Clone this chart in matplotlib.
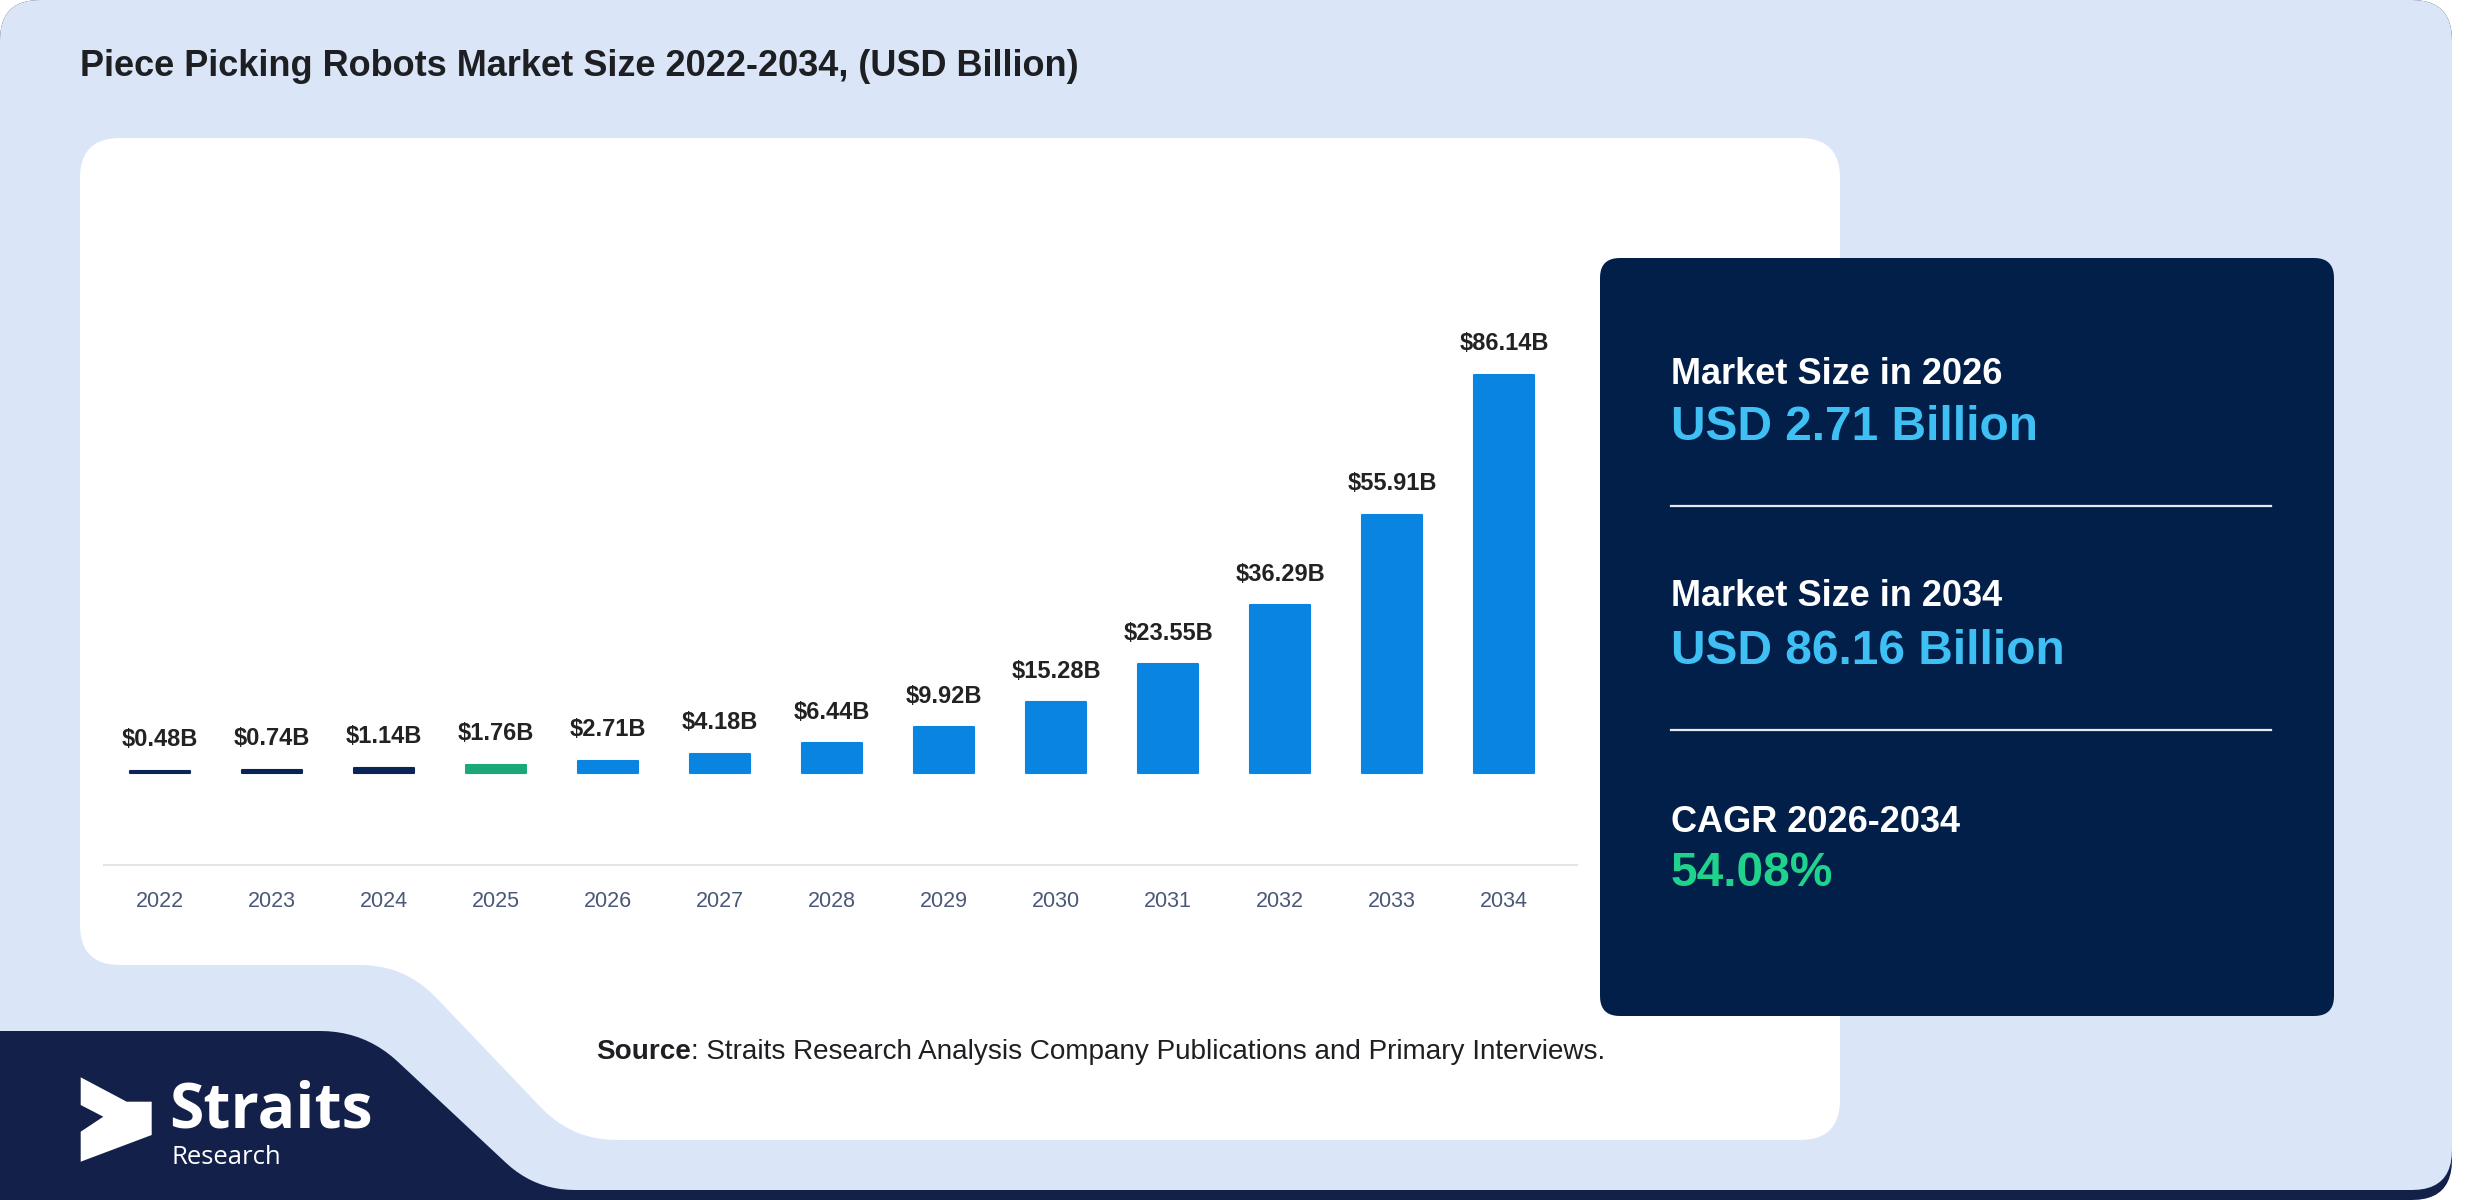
import numpy as np
import matplotlib
matplotlib.use("Agg")
import matplotlib.pyplot as plt
from matplotlib.patches import Polygon

plt.rcParams['font.family'] = ['Liberation Sans', 'DejaVu Sans']

# data
years = ['2022', '2023', '2024', '2025', '2026', '2027', '2028',
         '2029', '2030', '2031', '2032', '2033', '2034']
market_size = [0.48, 0.74, 1.14, 1.76, 2.71, 4.18, 6.44,
               9.92, 15.28, 23.55, 36.29, 55.91, 86.14]
bar_colors = ['#0b2456'] * 3 + ['#1aa876'] + ['#0a84e1'] * 9

title = 'Piece Picking Robots Market Size 2022-2034, (USD Billion)'
panel_items = [('Market Size in 2026', 'USD 2.71 Billion', '#3fc0f4'),
               ('Market Size in 2034', 'USD 86.16 Billion', '#3fc0f4'),
               ('CAGR 2026-2034', '54.08%', '#1fd38c')]
source_note = ': Straits Research Analysis Company Publications and Primary Interviews.'

W, H = 2480, 1200
LIGHT = '#dae6f8'
NAVY = '#13204a'
PANEL = '#021f4a'


def rounded(pts, radii, n=12):
    # polygon with rounded corners (quadratic bezier at each vertex)
    out = []
    N = len(pts)
    for i in range(N):
        p0 = np.array(pts[i - 1], float)
        p1 = np.array(pts[i], float)
        p2 = np.array(pts[(i + 1) % N], float)
        r = radii[i]
        if r == 0:
            out.append(p1)
            continue
        d1 = (p0 - p1) / np.linalg.norm(p0 - p1)
        d2 = (p2 - p1) / np.linalg.norm(p2 - p1)
        a = p1 + d1 * r
        b = p1 + d2 * r
        t = np.linspace(0, 1, n)[:, None]
        out.extend((1 - t) ** 2 * a + 2 * (1 - t) * t * p1 + t ** 2 * b)
    return np.array(out)


fig = plt.figure(figsize=(24.8, 12), dpi=100, facecolor='white')
bg = fig.add_axes([0, 0, 1, 1], zorder=0)
bg.set_xlim(0, W)
bg.set_ylim(H, 0)
bg.axis('off')

# navy base + light background
R = 2452
bg.add_patch(Polygon(rounded([(0, 0), (R, 0), (R, H), (0, H)], [40, 40, 40, 0]),
                     closed=True, fc=NAVY, ec='none'))
bg.add_patch(Polygon(rounded([(0, 0), (R, 0), (R, 1190), (535, 1190), (365, 1031), (0, 1031)],
                             [40, 40, 40, 40, 45, 0]),
                     closed=True, fc=LIGHT, ec='none'))

# white chart panel with notch at bottom-left
bg.add_patch(Polygon(rounded([(80, 138), (1840, 138), (1840, 1140), (572, 1140), (405, 965), (80, 965)],
                             [40, 40, 40, 45, 45, 40]),
                     closed=True, fc='white', ec='none'))

# right info panel
bg.add_patch(Polygon(rounded([(1600, 258), (2334, 258), (2334, 1016), (1600, 1016)], [20, 20, 20, 20]),
                     closed=True, fc=PANEL, ec='none'))

bg.text(80, 66, title, fontsize=26, fontweight='bold', color='#1e1f22', va='center', ha='left')

# info panel texts
ys = [(374, 428), (597, 651), (822, 873)]
for (lab, val, col), (y1, y2) in zip(panel_items, ys):
    bg.text(1671, y1, lab, fontsize=26, fontweight='bold', color='white', va='center')
    bg.text(1671, y2, val, fontsize=34.5, fontweight='bold', color=col, va='center')
for yl in (506, 730):
    bg.plot([1671, 2271], [yl, yl], color='#e6e9f0', lw=1.6)

# source note
src = bg.text(596, 1052, 'Source', fontsize=20.1, fontweight='bold', color='#1e1f22', va='center')
bg.annotate(source_note, xy=(1, 0.5), xycoords=src, fontsize=20.1, color='#1e1f22',
            va='center', ha='left')

# logo
arrow = [(80.7, 1077.3), (126.7, 1101.7), (151.7, 1101.7), (151.7, 1135),
         (80.7, 1161.7), (80.7, 1131.7), (103.3, 1116.7), (80.7, 1105)]
bg.add_patch(Polygon(arrow, closed=True, fc='white', ec='none'))
bg.text(169, 1127, 'Straits', fontsize=45, fontweight='bold', family='Open Sans',
        color='white', va='baseline')
bg.text(171, 1164, 'Research', fontsize=18.5, family='Open Sans', color='white', va='baseline')

# bar chart
x0, x1 = 104, 1577
y_top, y_axis = 150, 865
ax = fig.add_axes([x0 / W, 1 - y_axis / H, (x1 - x0) / W, (y_axis - y_top) / H], zorder=1)
ax.patch.set_alpha(0)
pos = np.arange(len(years))
ax.bar(pos, market_size, width=0.54, color=bar_colors, edgecolor=bar_colors,
       linewidth=1.5, joinstyle='round')
for i, v in enumerate(market_size):
    ax.annotate(f'${v:.2f}B', (pos[i], v), xytext=(0, 14), textcoords='offset points',
                ha='center', va='bottom', fontsize=17, fontweight='bold', color='#222222')
ax.set_xlim(-0.5, 12.65)
ax.set_ylim(-19.9, 134.8)
ax.set_xticks(pos, years)
ax.set_yticks([])
ax.tick_params(axis='x', length=0, pad=19, labelsize=15.5, labelcolor='#4a5877')
for s in ('top', 'right', 'left'):
    ax.spines[s].set_visible(False)
ax.spines['bottom'].set_color('#e2e5ea')
ax.spines['bottom'].set_linewidth(1.5)

fig.savefig('out.png', dpi=100, facecolor='white')
